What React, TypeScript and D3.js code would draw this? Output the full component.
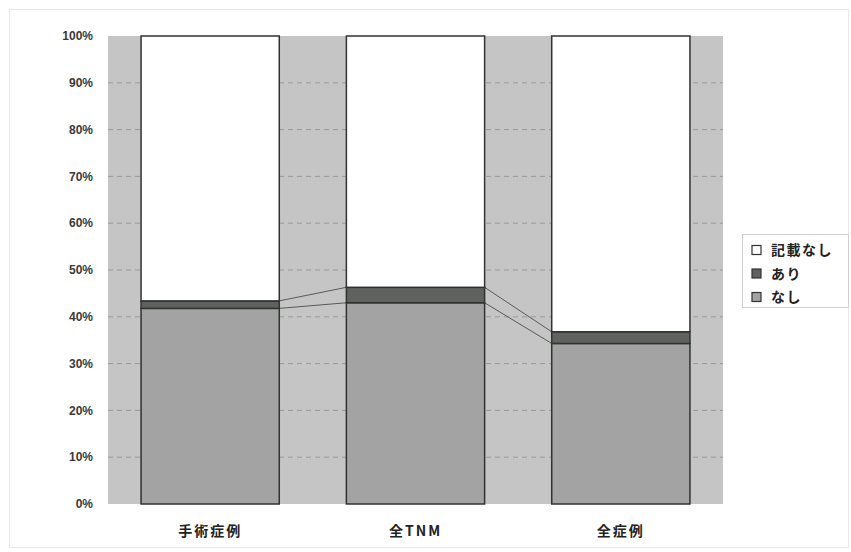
import React from "react";
import * as d3 from "d3";

const categories = ["手術症例", "全TNM", "全症例"];
const seriesNames = ["なし", "あり", "記載なし"];
const nashi = [41.8, 43.0, 34.3];
const ari = [1.6, 3.3, 2.5];
const kisainashi = [56.6, 53.7, 63.2];
const yTicks = [0, 10, 20, 30, 40, 50, 60, 70, 80, 90, 100];
const colors = ["#a3a3a3", "#5f625f", "#ffffff"];

const W = 851, H = 552;
const plot = { left: 108, right: 723, top: 36, bottom: 504 };

export default function App() {
  const x = d3.scaleBand<string>().domain(categories).range([plot.left, plot.right]).paddingInner(67 / 205).paddingOuter(33 / 205);
  const y = d3.scaleLinear().domain([0, 100]).range([plot.bottom, plot.top]);
  const stackData = categories.map((c, i) => ({ cat: c, s0: nashi[i], s1: ari[i], s2: kisainashi[i] }));
  const stack = d3.stack<any>().keys(["s0", "s1", "s2"]);
  const series = stack(stackData);
  const bw = x.bandwidth();
  const font = "'Noto Sans CJK JP', 'DejaVu Sans', sans-serif";

  return (
    <svg width={W} height={H} style={{ position: "absolute", left: 0, top: 0, background: "#fff" }} fontFamily={font}>
      <rect x={9.5} y={9.5} width={W - 12} height={H - 14} fill="none" stroke="#e8e8e8" />
      <rect x={plot.left} y={plot.top} width={plot.right - plot.left} height={plot.bottom - plot.top} fill="#c5c5c5" />
      {yTicks.slice(1, -1).map(t => (
        <line key={t} x1={plot.left} x2={plot.right} y1={y(t)} y2={y(t)} stroke="#9a9a9a" strokeDasharray="5,4" strokeWidth={1} />
      ))}
      {[0, 1].map(si => (
        <g key={"sl" + si}>
          {categories.slice(0, -1).map((c, i) => (
            <line key={c} x1={x(c)! + bw} x2={x(categories[i + 1])!}
              y1={y(series[si][i][1])} y2={y(series[si][i + 1][1])} stroke="#5a5a5a" strokeWidth={1} />
          ))}
        </g>
      ))}
      {series.map((s, si) => (
        <g key={si}>
          {s.map((d, i) => (
            <rect key={i} x={x(categories[i])!} y={y(d[1])} width={bw} height={y(d[0]) - y(d[1])}
              fill={colors[si]} stroke="#2f342f" strokeWidth={1.5} />
          ))}
        </g>
      ))}
      {yTicks.map(t => (
        <text key={t} x={93} y={y(t)} dy="0.35em" textAnchor="end" fontSize={12} fontWeight="bold" fill="#3a3a3a"
          fontFamily="'Liberation Sans', Arial, sans-serif">{t}%</text>
      ))}
      {categories.map(c => (
        <text key={c} x={x(c)! + bw / 2} y={536} textAnchor="middle" fontSize={14} fontWeight="bold" fill="#222" letterSpacing={2}>{c}</text>
      ))}
      <g>
        <rect x={742.5} y={234.5} width={106} height={73} fill="#fff" stroke="#cfcfcf" />
        {[2, 1, 0].map((si, k) => (
          <g key={si} transform={`translate(752, ${250 + k * 23.5})`}>
            <rect x={0} y={-4.5} width={9} height={9} fill={colors[si]} stroke="#333" strokeWidth={1.2} />
            <text x={19} y={0} dy="0.36em" fontSize={14} fontWeight="bold" fill="#222" letterSpacing={1.5}>{seriesNames[si]}</text>
          </g>
        ))}
      </g>
    </svg>
  );
}
